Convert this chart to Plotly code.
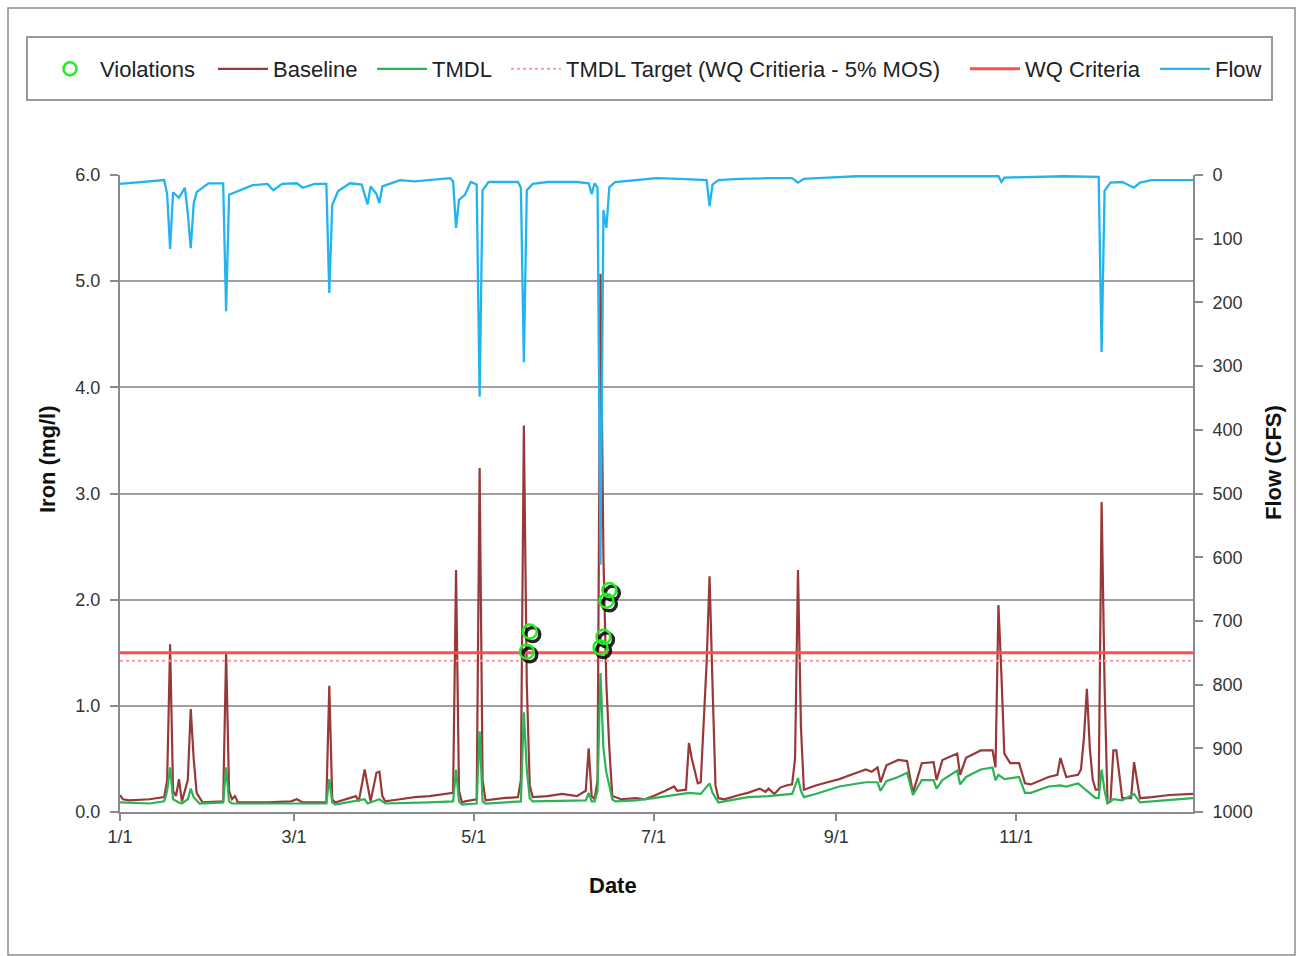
import pandas as pd
import plotly.graph_objects as go

# ---------------- data (day index from Jan 1, value) ----------------
YEAR_START = "2005-01-01"

baseline_days = [0, 1, 3, 10, 15, 16, 17, 18, 19, 20, 21, 23, 24, 25, 26, 28, 35, 36, 37, 38, 39, 40, 50,
                 58, 60, 62, 70, 71, 72, 73, 80, 81, 83, 85, 87, 88, 89, 90, 95, 100, 105, 110, 113, 114,
                 115, 116, 117, 121, 122, 123, 124, 130, 135, 136, 137, 138, 139, 140, 145, 150, 155, 158,
                 159, 160, 161, 162, 163, 164, 165, 166, 167, 170, 175, 178, 181, 185, 188, 189, 192, 193,
                 194, 196, 197, 199, 200, 201, 202, 203, 205, 210, 213, 217, 219, 220, 222, 224, 226, 228,
                 229, 230, 231, 232, 236, 240, 244, 248, 253, 255, 257, 258, 260, 264, 267, 269, 272, 276,
                 277, 279, 284, 285, 287, 292, 296, 297, 298, 299, 300, 302, 305, 307, 309, 315, 318, 319,
                 321, 325, 326, 327, 328, 329, 330, 331, 332, 333, 334, 335, 336, 337, 338, 340, 343, 344,
                 346, 350, 356, 364]
baseline_vals = [0.16, 0.12, 0.11, 0.12, 0.14, 0.30, 1.58, 0.20, 0.15, 0.31, 0.10, 0.30, 0.97, 0.50, 0.18,
                 0.09, 0.10, 1.50, 0.20, 0.12, 0.15, 0.09, 0.09, 0.10, 0.12, 0.09, 0.09, 1.19, 0.12, 0.09,
                 0.15, 0.10, 0.40, 0.10, 0.37, 0.38, 0.15, 0.10, 0.12, 0.14, 0.15, 0.17, 0.18, 2.28, 0.20,
                 0.09, 0.10, 0.12, 3.24, 0.30, 0.11, 0.13, 0.14, 0.30, 3.64, 1.20, 0.25, 0.14, 0.15, 0.17,
                 0.15, 0.20, 0.60, 0.15, 0.12, 0.30, 5.07, 2.40, 1.20, 0.60, 0.15, 0.12, 0.13, 0.12, 0.15,
                 0.20, 0.24, 0.20, 0.21, 0.65, 0.50, 0.27, 0.28, 1.40, 2.22, 1.20, 0.25, 0.13, 0.12, 0.16,
                 0.18, 0.22, 0.19, 0.22, 0.17, 0.23, 0.25, 0.26, 0.50, 2.28, 0.80, 0.21, 0.25, 0.28, 0.31,
                 0.35, 0.40, 0.38, 0.42, 0.28, 0.44, 0.49, 0.48, 0.18, 0.46, 0.47, 0.30, 0.49, 0.55, 0.35,
                 0.51, 0.58, 0.58, 0.42, 1.95, 1.30, 0.55, 0.46, 0.46, 0.27, 0.26, 0.33, 0.35, 0.51, 0.33,
                 0.35, 0.40, 0.70, 1.16, 0.60, 0.30, 0.21, 0.21, 2.92, 1.20, 0.09, 0.10, 0.58, 0.58, 0.13,
                 0.13, 0.47, 0.13, 0.14, 0.16, 0.17]

tmdl_days = [0, 10, 15, 16, 17, 18, 20, 21, 23, 24, 25, 27, 35, 36, 37, 38, 70, 71, 72, 73, 83, 84, 88, 90,
             105, 113, 114, 115, 116, 121, 122, 123, 124, 136, 137, 138, 139, 140, 158, 159, 160, 161, 162,
             163, 164, 165, 166, 167, 168, 175, 181, 188, 193, 197, 200, 201, 203, 205, 213, 220, 228, 230,
             231, 232, 236, 244, 253, 257, 258, 260, 264, 267, 269, 272, 276, 277, 279, 284, 285, 287, 292,
             296, 297, 298, 300, 305, 307, 309, 315, 319, 321, 325, 331, 332, 333, 334, 335, 337, 340, 344,
             346, 364]
tmdl_vals = [0.09, 0.08, 0.10, 0.20, 0.42, 0.12, 0.09, 0.08, 0.12, 0.22, 0.14, 0.08, 0.09, 0.42, 0.10, 0.08,
             0.08, 0.31, 0.09, 0.07, 0.12, 0.08, 0.12, 0.08, 0.09, 0.10, 0.40, 0.10, 0.07, 0.08, 0.76, 0.10,
             0.08, 0.10, 0.94, 0.40, 0.13, 0.10, 0.11, 0.18, 0.10, 0.10, 0.20, 1.31, 0.60, 0.37, 0.25, 0.12,
             0.10, 0.11, 0.13, 0.16, 0.18, 0.17, 0.27, 0.18, 0.09, 0.10, 0.14, 0.15, 0.17, 0.32, 0.20, 0.14,
             0.17, 0.24, 0.28, 0.28, 0.20, 0.29, 0.33, 0.37, 0.16, 0.30, 0.30, 0.22, 0.30, 0.39, 0.26, 0.33,
             0.40, 0.42, 0.30, 0.35, 0.31, 0.33, 0.18, 0.18, 0.24, 0.25, 0.24, 0.27, 0.13, 0.13, 0.40, 0.20,
             0.08, 0.12, 0.11, 0.17, 0.09, 0.13]

flow_days = [0, 5, 15, 16, 17, 18, 20, 22, 23, 24, 25, 26, 30, 35, 36, 37, 40, 45, 50, 52, 55, 60, 62, 66,
             70, 71, 72, 74, 78, 82, 84, 85, 87, 88, 89, 95, 100, 105, 112, 113, 114, 115, 117, 119, 121,
             122, 123, 125, 135, 136, 137, 138, 140, 145, 155, 159, 160, 161, 162, 163, 164, 165, 166, 168,
             175, 182, 190, 196, 199, 200, 201, 203, 210, 220, 228, 230, 232, 240, 250, 270, 290, 298, 299,
             300, 320, 332, 333, 334, 336, 340, 344, 346, 350, 364]
flow_cfs = [14, 12, 8, 30, 116, 27, 36, 20, 60, 115, 45, 27, 13, 13, 214, 31, 25, 16, 14, 24, 14, 13, 20, 14,
            14, 185, 47, 25, 13, 15, 46, 18, 30, 44, 18, 8, 10, 8, 5, 10, 83, 39, 31, 11, 15,
            348, 24, 11, 11, 20, 294, 24, 14, 11, 11, 13, 30, 13, 20, 612, 55, 83, 19, 11,
            8, 5, 6, 8, 8, 49, 15, 8, 6, 5, 5, 12, 6, 4, 2, 2, 2, 2, 11,
            4, 2, 3, 278, 25, 12, 11, 20, 12, 8, 8]

violation_days = [138, 139, 163, 164, 165, 166]
violation_vals = [1.51, 1.70, 1.55, 1.65, 1.99, 2.09]

wq_criteria = 1.5
mos_fraction = 0.05

x_tick_dates = ["2005-01-01", "2005-03-01", "2005-05-01", "2005-07-01", "2005-09-01", "2005-11-01"]
x_tick_labels = ["1/1", "3/1", "5/1", "7/1", "9/1", "11/1"]
iron_ticks = [0, 1, 2, 3, 4, 5, 6]
iron_tick_labels = ["0.0", "1.0", "2.0", "3.0", "4.0", "5.0", "6.0"]
flow_ticks = [0, 100, 200, 300, 400, 500, 600, 700, 800, 900, 1000]


def to_dates(days):
    return pd.Timestamp(YEAR_START) + pd.to_timedelta(days, unit="D")


# ---------------- geometry ----------------
FIG_W, FIG_H = 1297, 956
PL, PR_AXIS, PT, PB_AXIS = 120, 1193, 175, 812   # main axes box in pixels
SH = 3                                           # shadow offset in px
PR = PR_AXIS + SH
PB = PB_AXIS + SH
AW, AH = PR - PL, PB - PT


def px_x(px):
    return (px - PL) / AW


def px_y(py):
    return (PB - py) / AH


FONT = "Liberation Sans"
GRID = "#a0a0a0"
AXC = "#8a8a8a"

BASE_C = "#983838"
TMDL_C = "#2DB357"
FLOW_C = "#22B4EE"
WQ_C = "#FF4F4F"
TGT_C = "#FF9C9C"
VIOL_C = "#22EE22"

x_range = [to_dates(0), to_dates(364)]
all_dates = [to_dates(0), to_dates(364)]

fig = go.Figure()

fig.add_trace(go.Scatter(
    x=[None], y=[None], mode="markers", name="Violations", legend="legend",
    marker=dict(symbol="circle-open", size=13, color=VIOL_C, line=dict(width=2.5, color=VIOL_C)),
    xaxis="x", yaxis="y", showlegend=True))

fig.add_trace(go.Scatter(
    x=to_dates(baseline_days), y=baseline_vals, mode="lines", name="Baseline", legend="legend2",
    line=dict(color=BASE_C, width=2.2), xaxis="x", yaxis="y"))

fig.add_trace(go.Scatter(
    x=to_dates(tmdl_days), y=tmdl_vals, mode="lines", name="TMDL", legend="legend3",
    line=dict(color=TMDL_C, width=2.2), xaxis="x", yaxis="y"))

fig.add_trace(go.Scatter(
    x=all_dates, y=[wq_criteria * (1 - mos_fraction)] * 2, mode="lines",
    name="TMDL Target (WQ Critieria - 5% MOS)", legend="legend4",
    line=dict(color=TGT_C, width=2, dash="dot"), xaxis="x", yaxis="y"))

fig.add_trace(go.Scatter(
    x=all_dates, y=[wq_criteria] * 2, mode="lines", name="WQ Criteria", legend="legend5",
    line=dict(color=WQ_C, width=3), xaxis="x", yaxis="y"))

fig.add_trace(go.Scatter(
    x=to_dates(flow_days), y=flow_cfs, mode="lines", name="Flow", legend="legend6",
    line=dict(color=FLOW_C, width=2.3), xaxis="x", yaxis="y2"))

# shadows of violation markers (offset axes)
fig.add_trace(go.Scatter(
    x=to_dates(violation_days), y=violation_vals, mode="markers", showlegend=False,
    marker=dict(symbol="circle-open", size=14, color="rgba(0,0,0,0.85)",
                line=dict(width=3.5, color="rgba(0,0,0,0.85)")),
    xaxis="x3", yaxis="y3", hoverinfo="skip"))

fig.add_trace(go.Scatter(
    x=to_dates(violation_days), y=violation_vals, mode="markers", showlegend=False, name="Violations",
    marker=dict(symbol="circle-open", size=14, color=VIOL_C, line=dict(width=2.5, color=VIOL_C)),
    xaxis="x4", yaxis="y4"))

main_xdom = [0, px_x(PR_AXIS)]
main_ydom = [px_y(PB_AXIS), 1]
shadow_xdom = [px_x(PL + SH), 1]
shadow_ydom = [0, px_y(PT + SH)]

tickfont = dict(family=FONT, size=18, color="#333333")

legend_x_px = [40, 213, 372, 506, 965, 1155]
legend_keys = ["legend", "legend2", "legend3", "legend4", "legend5", "legend6"]
legend_layout = {}
for key, lx in zip(legend_keys, legend_x_px):
    legend_layout[key] = dict(orientation="h", x=px_x(lx), y=px_y(69), xanchor="left", yanchor="middle",
                              font=dict(family=FONT, size=22, color="#222"), bgcolor="rgba(0,0,0,0)",
                              borderwidth=0, itemwidth=50)

fig.update_layout(
    width=FIG_W, height=FIG_H,
    margin=dict(l=PL, r=FIG_W - PR, t=PT, b=FIG_H - PB, pad=0),
    paper_bgcolor="white", plot_bgcolor="rgba(0,0,0,0)",
    font=dict(family=FONT, size=18, color="#222"),
    showlegend=True,
    **legend_layout,
    xaxis=dict(domain=main_xdom, type="date", range=x_range, tickvals=x_tick_dates,
               ticktext=x_tick_labels, showgrid=False, zeroline=False, showline=True,
               linecolor=AXC, linewidth=2, ticks="outside", ticklen=7, tickwidth=1.5,
               tickcolor=AXC, tickfont=tickfont, ticklabelstandoff=0, anchor="y"),
    yaxis=dict(domain=main_ydom, range=[0, 6], tickvals=iron_ticks, ticktext=iron_tick_labels,
               showgrid=True, gridcolor=GRID, gridwidth=2, zeroline=False, showline=True,
               linecolor=AXC, linewidth=2, ticks="outside", ticklen=8, tickwidth=1.5,
               tickcolor=AXC, tickfont=tickfont, ticklabelstandoff=6, anchor="x"),
    yaxis2=dict(overlaying="y", side="right", range=[1000, 0], tickvals=flow_ticks,
                showgrid=False, zeroline=False, showline=True, linecolor=AXC, linewidth=2,
                ticks="outside", ticklen=8, tickwidth=1.5, tickcolor=AXC, tickfont=tickfont,
                ticklabelstandoff=6, anchor="x"),
    xaxis3=dict(domain=shadow_xdom, type="date", range=x_range, visible=False, anchor="y3"),
    yaxis3=dict(domain=shadow_ydom, range=[0, 6], visible=False, anchor="x3"),
    xaxis4=dict(domain=main_xdom, type="date", range=x_range, visible=False, anchor="y4"),
    yaxis4=dict(domain=main_ydom, range=[0, 6], visible=False, anchor="x4"),
)

# outer frame and legend box
fig.add_shape(type="rect", xref="paper", yref="paper", x0=px_x(8), x1=px_x(1295), y0=px_y(955),
              y1=px_y(8), line=dict(color="#8c8c8c", width=1.5), layer="below")
fig.add_shape(type="rect", xref="paper", yref="paper", x0=px_x(27), x1=px_x(1272), y0=px_y(100),
              y1=px_y(37), line=dict(color="#9a9a9a", width=2), layer="below")

titlefont = dict(family=FONT, size=22, color="#111")
fig.add_annotation(text="<b>Date</b>", xref="paper", yref="paper", x=px_x(613), y=px_y(885),
                   showarrow=False, font=titlefont, xanchor="center", yanchor="middle")
fig.add_annotation(text="<b>Iron (mg/l)</b>", xref="paper", yref="paper", x=px_x(47), y=px_y(459),
                   showarrow=False, font=titlefont, textangle=-90, xanchor="center", yanchor="middle")
fig.add_annotation(text="<b>Flow (CFS)</b>", xref="paper", yref="paper", x=px_x(1273), y=px_y(463),
                   showarrow=False, font=titlefont, textangle=-90, xanchor="center", yanchor="middle")

fig.write_html("out.html", config={"displayModeBar": False},
               post_script="document.body.style.margin='0';document.body.style.overflow='hidden';")
